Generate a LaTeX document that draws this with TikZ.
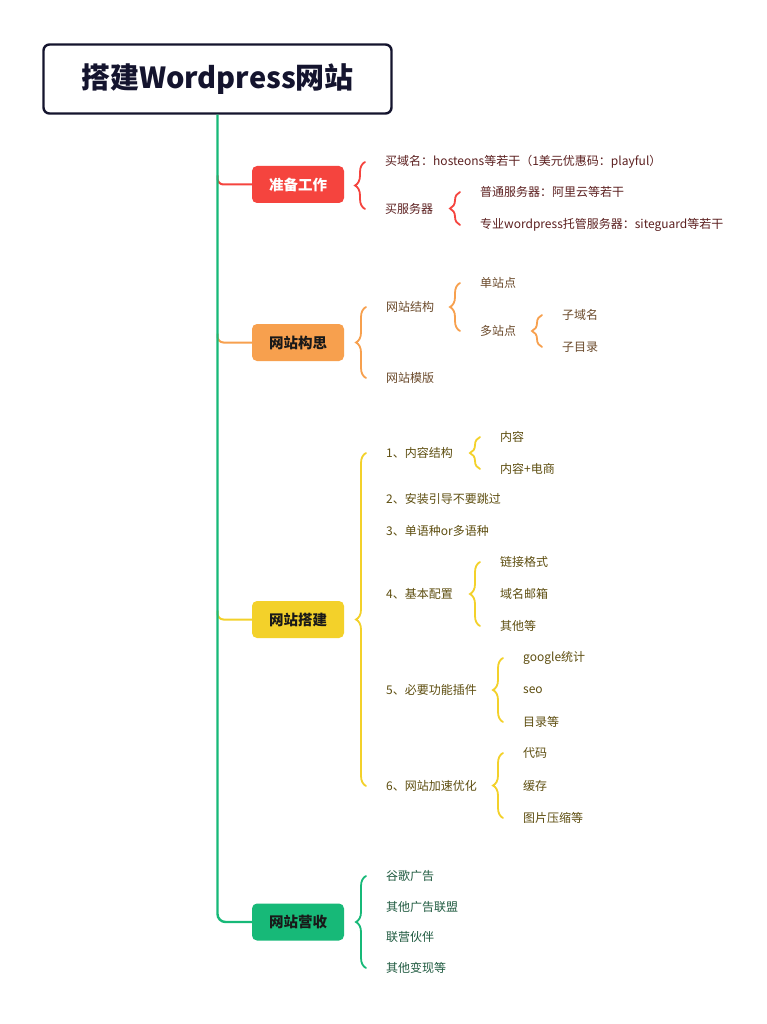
\documentclass[tikz,border=0pt]{standalone}
\usepackage{fontspec}
\setmainfont{Noto Sans CJK SC}
\usetikzlibrary{decorations.pathreplacing}

\definecolor{cNavy}{HTML}{14142E}
\definecolor{cTrunk}{HTML}{17B978}
\definecolor{cRed}{HTML}{F5443E}
\definecolor{cOrange}{HTML}{F7A04E}
\definecolor{cYellow}{HTML}{F3D12A}
\definecolor{cGreen}{HTML}{17B978}
\definecolor{tRed}{HTML}{5C2020}
\definecolor{tOrange}{HTML}{6B4A2B}
\definecolor{tYellow}{HTML}{5E4E10}
\definecolor{tGreen}{HTML}{1F5A40}

\begin{document}
\begin{tikzpicture}[
	x=1pt, y=-1pt,
	root/.style={ draw=cNavy, line width=2.4pt, rounded corners=6pt, minimum width=348pt, minimum height=69pt, text=cNavy, font=\fontsize{29}{32}\selectfont\bfseries },
	box/.style={ fill=#1, rounded corners=5pt, minimum width=92pt, minimum height=37pt, text=black!90, font=\fontsize{14.5}{16}\selectfont\bfseries },
	leaf/.style={ anchor=west, inner sep=0pt, text=#1, font=\fontsize{12}{14}\selectfont },
	brc/.style={ draw=#1, line width=1.8pt, line cap=round, decorate, decoration={brace, amplitude=10pt} },
	link/.style={ draw=#1, line width=2pt, rounded corners=6pt }
]
\fill[white] (0,0) rectangle (766,1024);
\useasboundingbox (0,0) rectangle (766,1024);

\node at (217.5,79) (root) [root] {搭建Wordpress网站};

\node at (298,184.5) (b1) [box=cRed, text=white] {准备工作};
\node at (298,342.5) (b2) [box=cOrange] {网站构思};
\node at (298,619.5) (b3) [box=cYellow] {网站搭建};
\node at (298,922) (b4) [box=cGreen] {网站营收};

% links from the trunk
\draw[link=cRed] ([yshift=9pt]root.south |- b1.west) -- (root.south |- b1.west) -- (b1.west);
\draw[link=cOrange] ([yshift=9pt]root.south |- b2.west) -- (root.south |- b2.west) -- (b2.west);
\draw[link=cYellow] ([yshift=9pt]root.south |- b3.west) -- (root.south |- b3.west) -- (b3.west);
\draw[link=cTrunk, line width=2.4pt, rounded corners=8pt] (root.south) -- (root.south |- b4.west) -- (b4.west);

% 准备工作
\node at (385,162) (r1) [leaf=tRed] {买域名：hosteons等若干（1美元优惠码：playful）};
\node at (385,209) (r2) [leaf=tRed] {买服务器};
\node at (480,192) (r21) [leaf=tRed] {普通服务器：阿里云等若干};
\node at (480,225) (r22) [leaf=tRed] {专业wordpress托管服务器：siteguard等若干};
\draw[brc=cRed] ([xshift=-20pt]r2.west) -- ([xshift=-20pt]r1.west);
\draw[brc=cRed] ([xshift=-20pt]r22.west) -- ([xshift=-20pt]r21.west);

% 网站构思
\node at (386,307) (o1) [leaf=tOrange] {网站结构};
\node at (386,378) (o2) [leaf=tOrange] {网站模版};
\node at (480,283) (o11) [leaf=tOrange] {单站点};
\node at (480,331) (o12) [leaf=tOrange] {多站点};
\node at (562,315) (o121) [leaf=tOrange] {子域名};
\node at (562,347) (o122) [leaf=tOrange] {子目录};
\draw[brc=cOrange] ([xshift=-20pt]o2.west) -- ([xshift=-20pt]o1.west);
\draw[brc=cOrange] ([xshift=-20pt]o12.west) -- ([xshift=-20pt]o11.west);
\draw[brc=cOrange] ([xshift=-20pt]o122.west) -- ([xshift=-20pt]o121.west);

% 网站搭建
\node at (386,453) (y1) [leaf=tYellow] {1、内容结构};
\node at (386,499) (y2) [leaf=tYellow] {2、安装引导不要跳过};
\node at (386,531) (y3) [leaf=tYellow] {3、单语种or多语种};
\node at (386,594) (y4) [leaf=tYellow] {4、基本配置};
\node at (386,690) (y5) [leaf=tYellow] {5、必要功能插件};
\node at (386,786) (y6) [leaf=tYellow] {6、网站加速优化};
\node at (500,437) (y11) [leaf=tYellow] {内容};
\node at (500,469) (y12) [leaf=tYellow] {内容+电商};
\node at (500,562) (y41) [leaf=tYellow] {链接格式};
\node at (500,594) (y42) [leaf=tYellow] {域名邮箱};
\node at (500,626) (y43) [leaf=tYellow] {其他等};
\node at (523,658) (y51) [leaf=tYellow] {google统计};
\node at (523,690) (y52) [leaf=tYellow] {seo};
\node at (523,722) (y53) [leaf=tYellow] {目录等};
\node at (523,753) (y61) [leaf=tYellow] {代码};
\node at (523,786) (y62) [leaf=tYellow] {缓存};
\node at (523,818) (y63) [leaf=tYellow] {图片压缩等};
\draw[brc=cYellow] ([xshift=-20pt]y6.west) -- ([xshift=-20pt]y1.west);
\draw[brc=cYellow] ([xshift=-20pt]y12.west) -- ([xshift=-20pt]y11.west);
\draw[brc=cYellow] ([xshift=-20pt]y43.west) -- ([xshift=-20pt]y41.west);
\draw[brc=cYellow] ([xshift=-20pt]y53.west) -- ([xshift=-20pt]y51.west);
\draw[brc=cYellow] ([xshift=-20pt]y63.west) -- ([xshift=-20pt]y61.west);

% 网站营收
\node at (386,876) (g1) [leaf=tGreen] {谷歌广告};
\node at (386,907) (g2) [leaf=tGreen] {其他广告联盟};
\node at (386,937) (g3) [leaf=tGreen] {联营伙伴};
\node at (386,968) (g4) [leaf=tGreen] {其他变现等};
\draw[brc=cGreen] ([xshift=-20pt]g4.west) -- ([xshift=-20pt]g1.west);

\end{tikzpicture}
\end{document}
